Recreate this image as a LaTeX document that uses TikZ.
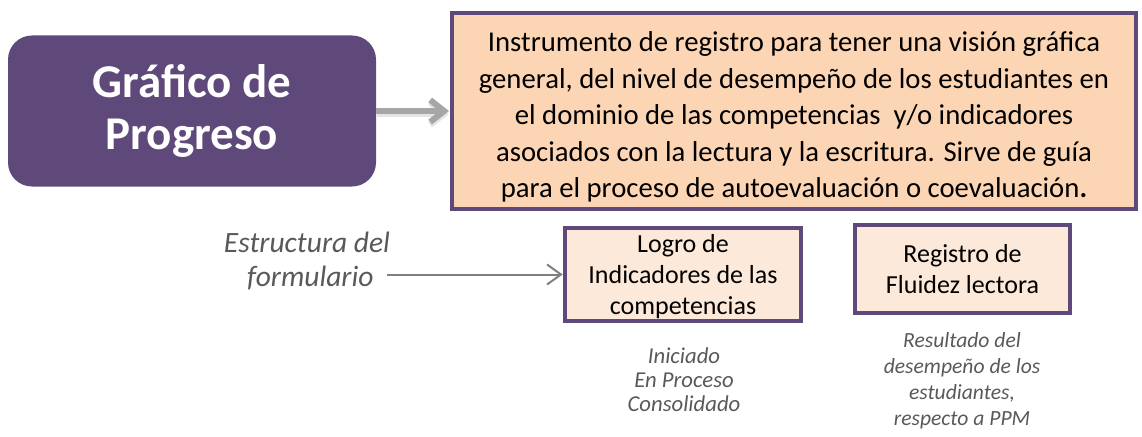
\documentclass[tikz,border=0pt]{standalone}
\usepackage{fontspec}
\setmainfont{Carlito}
\usetikzlibrary{arrows.meta}
\definecolor{purp}{HTML}{5F497A}
\definecolor{peach}{HTML}{FCD5B5}
\definecolor{peachlt}{HTML}{FDE9D9}
\definecolor{txtgray}{HTML}{595959}
\definecolor{arrgray}{HTML}{A6A6A6}
\definecolor{arrgray2}{HTML}{7F7F7F}
\tikzset{
  titlebox/.style={fill=purp, rounded corners=24pt, text=white, align=center,
    font=\fontsize{47}{52}\selectfont\bfseries, inner sep=0pt},
  bigbox/.style={draw=purp, line width=4pt, fill=peach, align=center,
    font=\fontsize{28.7}{36.5}\selectfont, inner sep=0pt},
  smallbox/.style={draw=purp, line width=4.5pt, fill=peachlt, align=center,
    font=\fontsize{26}{31}\selectfont, inner sep=0pt},
  note/.style={text=txtgray, align=center, inner sep=0pt},
  bigarrow/.style={draw=arrgray, line width=6pt, -{Straight Barb[length=14pt,width=22pt]}},
  smallarrow/.style={draw=arrgray2, line width=2pt, -{Straight Barb[length=14pt,width=20pt]}},
}
\begin{document}
\begin{tikzpicture}[x=1pt,y=-1pt]
\useasboundingbox (0,0) rectangle (1142,436);
\node[titlebox, minimum width=368pt, minimum height=151pt] (prog) at (192,111) {Gráfico de\\Progreso};
\node[bigbox, minimum width=684pt, minimum height=196pt] (desc) at (794,111) {};
\node[align=center, inner sep=0pt, font=\fontsize{28.7}{36.5}\selectfont] (desctxt) at (794,117)
 {Instrumento de registro para tener una visión gráfica\\
  general, del nivel de desempeño de los estudiantes en\\
  el dominio de las competencias\ \ y/o indicadores\\
  asociados con la lectura y la escritura. Sirve de guía\\
  para el proceso de autoevaluación o coevaluación\textbf{.}};
\node[smallbox, minimum width=236pt, minimum height=93pt] (logro) at (683,274.5) {};
\node[align=center, inner sep=0pt, font=\fontsize{26}{31}\selectfont] (logrotxt) at (683,277)
 {Logro de\\Indicadores de las\\competencias};
\node[smallbox, minimum width=215pt, minimum height=88pt, font=\fontsize{26}{31}\selectfont] (fluid) at (962.5,269)
 {Registro de\\Fluidez lectora};
\node[note, font=\fontsize{29.5}{34}\selectfont\itshape] (estr) at (307,261)
 {Estructura del\\\ formulario};
\coordinate (estrend) at (387,274.5);
\node[note, font=\fontsize{22.7}{24}\selectfont\itshape] (niv) at (684,380)
 {Iniciado\\En Proceso\\Consolidado};
\node[note, font=\fontsize{21.6}{26}\selectfont\itshape] (res) at (962,381)
 {Resultado del\\desempeño de los\\estudiantes,\\respecto a PPM};
\draw[bigarrow, draw=black!30, opacity=0.35] ([xshift=1pt,yshift=-3pt]prog.east) -- ([xshift=-1pt,yshift=-3pt]desc.west);
\draw[bigarrow] (prog.east) -- ([xshift=-1pt]desc.west);
\draw[smallarrow] (estrend) -- (logro.west);
\end{tikzpicture}
\end{document}
